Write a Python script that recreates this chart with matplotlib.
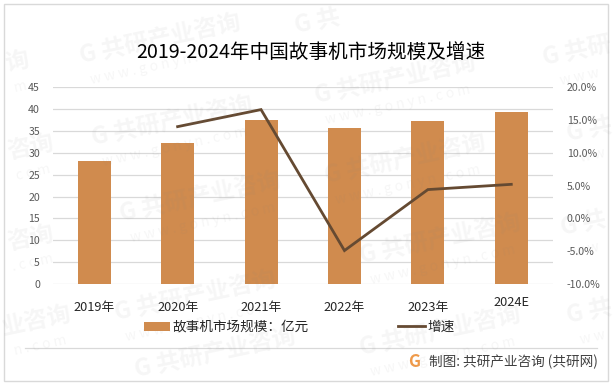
# Data
import matplotlib
matplotlib.use('Agg')
import matplotlib.pyplot as plt
from matplotlib.lines import Line2D
from matplotlib.patches import Patch, Rectangle

plt.rcParams['font.family'] = ['Noto Sans CJK SC', 'DejaVu Sans']

W, H = 614, 387

years = ['2019年', '2020年', '2021年', '2022年', '2023年', '2024E']
market_size = [28.1, 32.3, 37.5, 35.7, 37.3, 39.4]
growth = [None, 14.0, 16.6, -4.9, 4.4, 5.2]
left_ticks = [0, 5, 10, 15, 20, 25, 30, 35, 40, 45]
right_ticks = [-10, -5, 0, 5, 10, 15, 20]

bar_color = '#d08b4e'
line_color = '#654a32'
grid_color = '#d9d9d9'

# watermark pieces: centre in pixels of the picture, main text, small text under it
marks = [
    (160, 40, 'G 共研产业咨询', 'w w w . g o n y n . c o m'),
    (172, 122, 'G 共研产业咨询', 'w w w . g o n y n . c o m'),
    (200, 198, 'G 共研产业咨询', 'w w w . g o n y n . c o m'),
    (195, 297, 'G 共研产业咨询', 'w w w . g o n y n . c o m'),
    (215, 354, 'G 共研产业咨询', ''),
    (395, 80, 'G 共研产业咨询', 'w w w . g o n y n . c o m'),
    (405, 160, 'G 共研产业咨询', 'w w w . g o n y n . c o m'),
    (440, 240, 'G 共研产业咨询', 'w w w . g o n y n . c o m'),
    (440, 332, 'G 共研产业咨询', 'w w w . g o n y n . c o m'),
    (318, 22, 'G 共', ''),
    (17, 62, '询', 'm'),
    (30, 147, '咨询', 'c o m'),
    (30, 238, '咨询', '. c o m'),
    (37, 321, '业咨询', 'n . c o m'),
    (577, 52, 'G 共研', 'w w w'),
    (590, 130, 'G 共', 'w w'),
    (584, 224, 'G 共', 'w w'),
    (590, 312, 'G 共', 'w w'),
]


def fx(px):
    return px / W


def fy(py):
    return 1 - py / H


fig = plt.figure(figsize=(W / 100, H / 100), dpi=100)
fig.patch.set_facecolor('white')
ax = fig.add_axes([fx(52.5), fy(284), 500.5 / W, 196.7 / H])
ax.set_facecolor('none')

# ------------- Bars
x = list(range(len(years)))
ax.bar(x, market_size, width=0.396, color=bar_color, zorder=2)
ax.set_xlim(-0.5, 5.5)
ax.set_ylim(0, 45)
ax.set_yticks(left_ticks)
ax.set_xticks(x)
ax.set_xticklabels(years[:-1] + [''], fontsize=9.2, color='#262626')
ax.tick_params(axis='x', length=0, pad=12)
ax.tick_params(axis='y', length=0, pad=9, labelsize=7.6, labelcolor='#595959')
ax.grid(axis='y', color=grid_color, linewidth=0.9, zorder=0)
ax.set_axisbelow(True)
for s in ax.spines.values():
    s.set_visible(False)

# 2024E sits a little higher than the other labels
ax.annotate(years[-1], (x[-1], 0), xycoords=ax.get_xaxis_transform(),
            xytext=(0, -18), textcoords='offset pixels', ha='center', va='center',
            fontsize=9.2, color='#262626')

# ------------- Growth line
ax2 = ax.twinx()
ax2.set_facecolor('none')
ax2.plot(x[1:], growth[1:], color=line_color, linewidth=2.0, zorder=3,
         solid_joinstyle='miter')
ax2.set_ylim(-10, 20)
ax2.set_yticks(right_ticks)
ax2.set_yticklabels([f'{t:.1f}%' for t in right_ticks])
ax2.tick_params(axis='y', length=0, pad=10, labelsize=7.6, labelcolor='#595959')
for s in ax2.spines.values():
    s.set_visible(False)

# ------------- Title, legend, footer
fig.text(fx(310.5), fy(52), '2019-2024年中国故事机市场规模及增速', ha='center', va='center',
         fontsize=14.1, color='#000000')

handles = [Patch(facecolor=bar_color, edgecolor='none'),
           Line2D([], [], color=line_color, linewidth=2.0)]
fig.legend(handles, ['故事机市场规模：亿元', '增速'], ncol=2, loc='center',
           bbox_to_anchor=(fx(299), fy(327)), frameon=False, fontsize=9.8,
           handlelength=1.95, handleheight=0.6, handletextpad=0.15,
           columnspacing=6.6, labelcolor='#262626', borderpad=0)

fig.add_artist(Line2D([fx(25), fx(597)], [fy(347.5), fy(347.5)], color=grid_color, linewidth=0.9))
fig.add_artist(Rectangle((fx(3.5), fy(381)), 604.5 / W, 377.5 / H, fill=False,
                         edgecolor='#d9d9d9', linewidth=1.0))
fig.text(fx(414), fy(362), 'G', ha='center', va='center', fontsize=12,
         fontweight='bold', color='#ef9a4a')
fig.text(fx(429), fy(362), '制图: 共研产业咨询 (共研网)', ha='left', va='center',
         fontsize=9.8, color='#404040')

# ------------- Watermark
for mx, my, main, small in marks:
    fig.text(fx(mx), fy(my), main, ha='center', va='center', rotation=12,
             rotation_mode='anchor', fontsize=17, fontweight='bold', color='#808080',
             alpha=0.07, zorder=5)
    if small:
        fig.text(fx(mx + 3), fy(my + 25), small, ha='center', va='center',
                 rotation=12, rotation_mode='anchor', fontsize=10, color='#808080',
                 alpha=0.07, zorder=5)

plt.savefig('out.png', dpi=100)
